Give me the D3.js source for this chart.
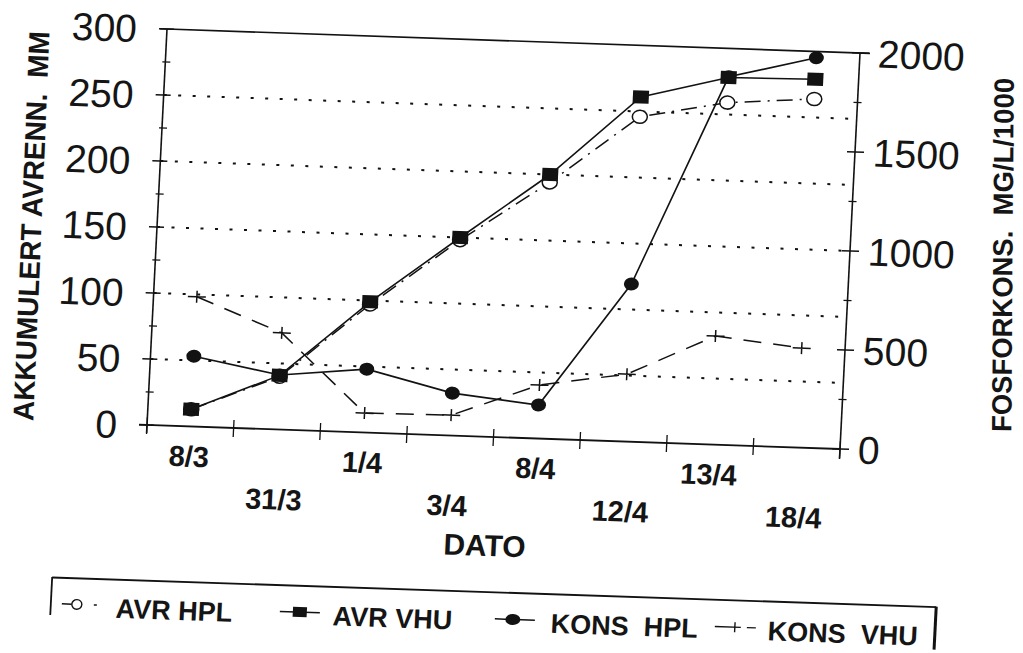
<!DOCTYPE html>
<html><head><meta charset="utf-8">
<script src="https://cdn.jsdelivr.net/npm/d3@7"></script>
<style>
body{margin:0;background:#fff;}
svg{display:block;}
text{font-family:"Liberation Sans",Arial,Helvetica,sans-serif;fill:#151515;white-space:pre;}
</style>
</head><body>
<svg id="chart" width="1023" height="653" xml:space="preserve"></svg>
<script>
// ---- data ----
const categories = ["8/3","31/3","1/4","3/4","8/4","12/4","13/4","18/4"];
const avrHPL  = [13, 40, 97, 148, 194, 246, 259, 264];     // left axis (mm)
const avrVHU  = [13, 41, 99, 150, 200, 261, 278, 279];     // left axis (mm)
const konsHPL = [355, 275, 320, 214, 169, 795, 1857, 1968]; // right axis
const konsVHU = [655, 488, 98, 103, 270, 340, 548, 502];    // right axis
const leftTicks  = [0, 50, 100, 150, 200, 250, 300];
const leftMinor  = [25, 75, 125, 175, 225, 275];
const rightTicks = [0, 500, 1000, 1500, 2000];
const rightMinor = [250, 750, 1250, 1750];
const gridValues = [50, 100, 150, 200, 250];
const legendLabels = ["AVR HPL", "AVR VHU", "KONS  HPL", "KONS  VHU"];
const xTitle = "DATO";
const yLeftTitle = "AKKUMULERT AVRENN.  MM";
const yRightTitle = "FOSFORKONS.  MG/L/1000";

// ---- layout ----
const ink = "#121212";
const svg = d3.select("#chart");
// the scanned page is slightly tilted: reproduce that with one affine transform
const page = svg.append("g").attr("transform", "matrix(1,0.03463,-0.0505,1,1.4645,-5.783)");
const M = {left: 167, top: 29}, W = 693, H = 396;
const g = page.append("g").attr("transform", `translate(${M.left},${M.top})`);

const x = d3.scaleBand().domain(categories).range([0, W]);
const cx = c => x(c) + x.bandwidth() / 2;
const yL = d3.scaleLinear().domain([0, 300]).range([H, 0]);
const yR = d3.scaleLinear().domain([0, 2000]).range([H, 0]);

// dotted grid
g.selectAll(".grid").data(gridValues).join("line")
  .attr("x1", 0).attr("x2", W).attr("y1", d => yL(d)).attr("y2", d => yL(d))
  .attr("stroke", ink).attr("stroke-width", 2).attr("stroke-dasharray", "3,11.5");

// frame / axes
const ln = (x1, y1, x2, y2, w = 1.6) => g.append("line").attr("x1", x1).attr("y1", y1)
  .attr("x2", x2).attr("y2", y2).attr("stroke", ink).attr("stroke-width", w);
ln(0, 0, 0, H + 8);
ln(-7, 0, W + 10, 0);
ln(-8, H, W, H, 1.8);
ln(W, 0, W, H + 10);

// left ticks
g.selectAll(".lt").data(leftTicks).join("line")
  .attr("x1", -8).attr("x2", 7).attr("y1", d => yL(d)).attr("y2", d => yL(d))
  .attr("stroke", ink).attr("stroke-width", 1.4);
g.selectAll(".lm").data(leftMinor).join("line")
  .attr("x1", -3).attr("x2", 5).attr("y1", d => yL(d)).attr("y2", d => yL(d))
  .attr("stroke", ink).attr("stroke-width", 1.3);
// right ticks
g.selectAll(".rt").data(rightTicks).join("line")
  .attr("x1", W - 8).attr("x2", W + 9).attr("y1", d => yR(d)).attr("y2", d => yR(d))
  .attr("stroke", ink).attr("stroke-width", 1.4);
g.selectAll(".rm").data(rightMinor).join("line")
  .attr("x1", W - 4).attr("x2", W + 4).attr("y1", d => yR(d)).attr("y2", d => yR(d))
  .attr("stroke", ink).attr("stroke-width", 1.3);
// x ticks at band edges
g.selectAll(".xt").data(d3.range(categories.length + 1)).join("line")
  .attr("x1", i => i * x.step()).attr("x2", i => i * x.step())
  .attr("y1", H - 8).attr("y2", H + 9)
  .attr("stroke", ink).attr("stroke-width", 1.3);

// tick labels
g.selectAll(".ll").data(leftTicks).join("text")
  .attr("x", -30).attr("y", d => yL(d) + 14).attr("text-anchor", "end")
  .style("font-size", "39px").text(d => d);
g.selectAll(".rl").data(rightTicks).join("text")
  .attr("x", W + 18).attr("y", d => yR(d) + 14).attr("text-anchor", "start")
  .style("font-size", "39px").text(d => d);
g.selectAll(".xl").data(categories).join("text")
  .attr("x", d => cx(d)).attr("y", (d, i) => H + (i % 2 ? 80 : 40))
  .attr("text-anchor", "middle").style("font-size", "29px").style("font-weight", "bold")
  .text(d => d);

// axis titles
page.append("text").attr("x", 510).attr("y", 544).attr("text-anchor", "middle")
  .style("font-size", "30px").style("font-weight", "bold").text(xTitle);
svg.append("text").attr("transform", "translate(31,226) rotate(-87.6)")
  .attr("x", 0).attr("y", 10.4)
  .attr("text-anchor", "middle").style("font-size", "29px").style("font-weight", "bold")
  .attr("textLength", 390).attr("lengthAdjust", "spacingAndGlyphs").text(yLeftTitle);
svg.append("text").attr("transform", "translate(1002.5,255) rotate(-89.6)")
  .attr("x", 0).attr("y", 10)
  .attr("text-anchor", "middle").style("font-size", "28px").style("font-weight", "bold")
  .attr("textLength", 354).attr("lengthAdjust", "spacingAndGlyphs").text(yRightTitle);

// ---- series ----
const lineL = d3.line().x((d, i) => cx(categories[i])).y(d => yL(d));
const lineR = d3.line().x((d, i) => cx(categories[i])).y(d => yR(d));

g.append("path").attr("d", lineR(konsVHU)).attr("fill", "none").attr("stroke", ink)
  .attr("stroke-width", 1.5).attr("stroke-dasharray", "18,12");
g.append("path").attr("d", lineL(avrHPL)).attr("fill", "none").attr("stroke", ink)
  .attr("stroke-width", 1.5).attr("stroke-dasharray", "16,7,2,7");
g.append("path").attr("d", lineL(avrVHU)).attr("fill", "none").attr("stroke", ink)
  .attr("stroke-width", 1.6);
g.append("path").attr("d", lineR(konsHPL)).attr("fill", "none").attr("stroke", ink)
  .attr("stroke-width", 1.6);

// markers
g.selectAll(".mp").data(konsVHU).join("path")
  .attr("d", (d, i) => { const px = cx(categories[i]), py = yR(d);
    return `M${px - 9},${py}H${px + 9}M${px},${py - 6}V${py + 6}`; })
  .attr("stroke", ink).attr("stroke-width", 1.5).attr("fill", "none");
g.selectAll(".mo").data(avrHPL).join("ellipse")
  .attr("cx", (d, i) => cx(categories[i])).attr("cy", d => yL(d))
  .attr("rx", 7.5).attr("ry", 6.5).attr("fill", "#fff").attr("stroke", ink).attr("stroke-width", 1.5);
g.selectAll(".ms").data(avrVHU).join("rect")
  .attr("x", (d, i) => cx(categories[i]) - 8).attr("y", d => yL(d) - 6.5)
  .attr("width", 16).attr("height", 13).attr("fill", ink);
g.selectAll(".mc").data(konsHPL).join("ellipse")
  .attr("cx", (d, i) => cx(categories[i])).attr("cy", d => yR(d))
  .attr("rx", 7.5).attr("ry", 6.5).attr("fill", ink);

// ---- legend ----
const lg = page.append("g");
lg.append("line").attr("x1", 80).attr("y1", 580.5).attr("x2", 964).attr("y2", 579.5)
  .attr("stroke", ink).attr("stroke-width", 1.8);
lg.append("line").attr("x1", 80).attr("y1", 580).attr("x2", 80).attr("y2", 618)
  .attr("stroke", ink).attr("stroke-width", 1.8);
lg.append("line").attr("x1", 964).attr("y1", 579).attr("x2", 964).attr("y2", 622)
  .attr("stroke", ink).attr("stroke-width", 3);

const symX = [91, 309, 524, 744];
const txtX = [145, 362, 580, 797];
const sy = 606.5;
// AVR HPL: -o.
lg.append("line").attr("x1", symX[0]).attr("x2", symX[0] + 10).attr("y1", sy).attr("y2", sy).attr("stroke", ink).attr("stroke-width", 1.5);
lg.append("ellipse").attr("cx", symX[0] + 15).attr("cy", sy).attr("rx", 5).attr("ry", 4.8).attr("fill", "#fff").attr("stroke", ink).attr("stroke-width", 1.4);
lg.append("line").attr("x1", symX[0] + 32).attr("x2", symX[0] + 35).attr("y1", sy).attr("y2", sy).attr("stroke", ink).attr("stroke-width", 1.5);
// AVR VHU: -■-
lg.append("line").attr("x1", symX[1]).attr("x2", symX[1] + 40).attr("y1", sy).attr("y2", sy).attr("stroke", ink).attr("stroke-width", 1.5);
lg.append("rect").attr("x", symX[1] + 13).attr("y", sy - 5).attr("width", 14).attr("height", 10).attr("fill", ink);
// KONS HPL: -●-
lg.append("line").attr("x1", symX[2]).attr("x2", symX[2] + 40).attr("y1", sy).attr("y2", sy).attr("stroke", ink).attr("stroke-width", 1.5);
lg.append("ellipse").attr("cx", symX[2] + 18).attr("cy", sy).attr("rx", 7.5).attr("ry", 5.5).attr("fill", ink);
// KONS VHU: -+-
lg.append("line").attr("x1", symX[3]).attr("x2", symX[3] + 26).attr("y1", sy).attr("y2", sy).attr("stroke", ink).attr("stroke-width", 1.4);
lg.append("line").attr("x1", symX[3] + 20).attr("x2", symX[3] + 20).attr("y1", sy - 5).attr("y2", sy + 5).attr("stroke", ink).attr("stroke-width", 1.4);
lg.append("line").attr("x1", symX[3] + 32).attr("x2", symX[3] + 41).attr("y1", sy).attr("y2", sy).attr("stroke", ink).attr("stroke-width", 1.4);

lg.selectAll(".lt").data(legendLabels).join("text")
  .attr("x", (d, i) => txtX[i]).attr("y", 618.5)
  .style("font-size", "27px").style("font-weight", "bold").text(d => d);
</script>
</body></html>
